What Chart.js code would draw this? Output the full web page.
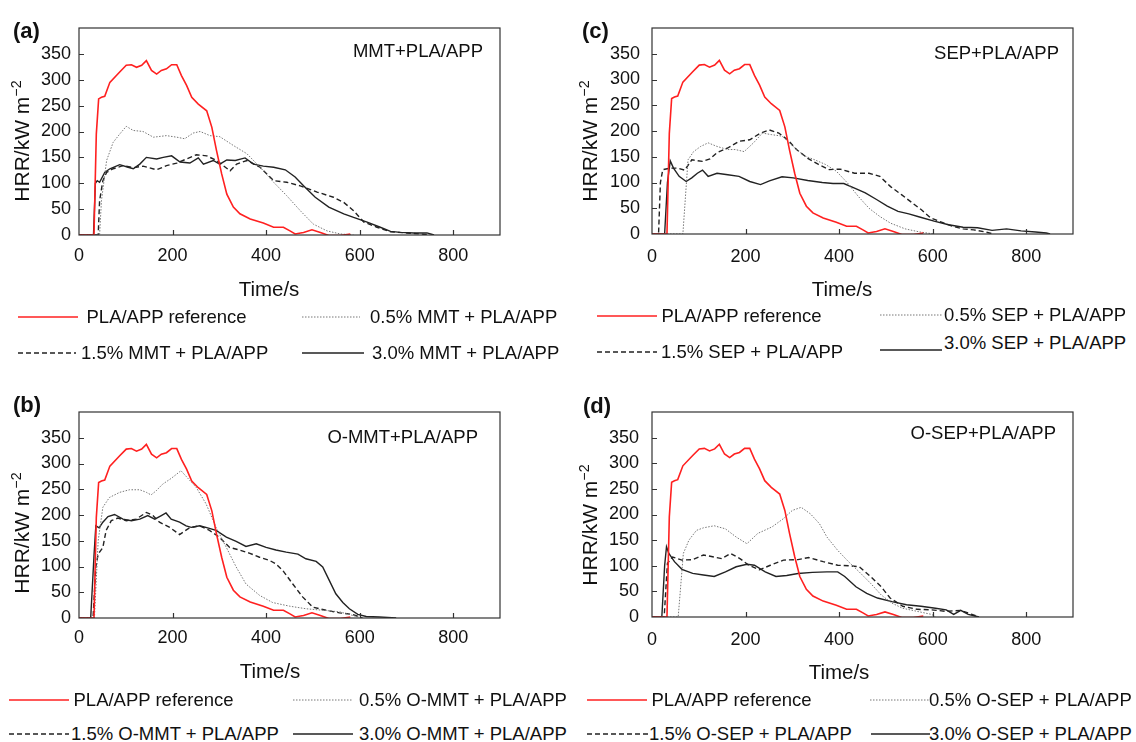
<!DOCTYPE html>
<html><head><meta charset="utf-8">
<script src="https://cdn.jsdelivr.net/npm/chart.js@4/dist/chart.umd.min.js"></script>
<style>
body{margin:0;background:#fff;}
#page{position:relative;width:1136px;height:742px;overflow:hidden;font-family:"Liberation Sans",Arial,Helvetica,sans-serif;color:#111;background:#fff;}
canvas{position:absolute;}
.t{position:absolute;white-space:nowrap;line-height:1;}
.yt{position:absolute;white-space:nowrap;line-height:1;font-size:21px;transform:translate(-50%,-50%) rotate(-90deg);}
.yt sup{font-size:0.68em;vertical-align:0.55em;line-height:0;}
.pl{font-weight:bold;font-size:22px;}
svg{position:absolute;overflow:visible;}
</style></head>
<body><div id="page">
<canvas id="ca" width="520" height="280" style="left:0;top:0"></canvas>
<canvas id="cc" width="566" height="280" style="left:570px;top:0"></canvas>
<canvas id="cb" width="520" height="280" style="left:0;top:384px"></canvas>
<canvas id="cd" width="566" height="280" style="left:570px;top:384px"></canvas>
</div>
<script>
// ---------- DATA (time s, HRR kW m^-2) ----------
const xTicks = [0, 200, 400, 600, 800];
const yTicks = [0, 50, 100, 150, 200, 250, 300, 350];
const refHRR = [[0,0],[32,0],[37,195],[42,263],[48,266],[55,268],[66,295],[87,315],[101,328],[112,329],[123,324],[134,328],[144,337],[155,318],[166,311],[176,318],[187,321],[198,329],[209,329],[219,308],[230,289],[241,266],[255,253],[273,240],[284,208],[294,163],[305,118],[316,79],[330,54],[344,41],[366,31],[394,23],[416,15],[437,15],[451,8],[462,2],[480,5],[498,10],[516,5],[534,-1],[559,-1],[580,2]];
const mmt05 = [[0,0],[44,0],[48,66],[59,144],[73,179],[87,195],[101,210],[116,202],[137,200],[159,189],[187,192],[209,189],[226,186],[244,197],[259,200],[280,192],[301,190],[330,173],[359,157],[387,131],[416,102],[444,76],[473,47],[501,21],[530,8],[559,2],[587,0]];
const mmt15 = [[0,0],[41,0],[44,66],[51,105],[59,121],[73,128],[94,134],[116,130],[137,133],[166,126],[187,134],[209,139],[230,147],[251,155],[273,153],[294,144],[323,124],[337,137],[359,144],[387,131],[416,105],[444,102],[473,95],[509,83],[544,73],[566,63],[587,47],[609,25],[637,15],[666,6],[701,4],[730,2],[751,0]];
const mmt30 = [[0,0],[31,0],[35,100],[39,105],[44,102],[55,121],[66,128],[87,136],[105,131],[116,128],[130,137],[144,150],[166,147],[180,150],[198,153],[216,141],[237,139],[255,149],[266,137],[287,144],[301,137],[316,145],[334,144],[355,149],[373,137],[394,133],[416,131],[441,126],[462,112],[480,95],[505,73],[534,54],[566,41],[587,34],[616,25],[644,15],[666,7],[687,5],[716,4],[744,4],[759,0]];
const sep05 = [[0,0],[66,0],[77,144],[89,160],[104,170],[120,177],[139,170],[162,164],[178,164],[197,160],[217,177],[236,196],[255,193],[278,190],[302,170],[325,152],[348,144],[371,135],[394,122],[418,99],[441,73],[464,50],[487,34],[510,21],[541,10],[572,4],[603,0]];
const sep15 = [[0,0],[14,0],[18,100],[23,125],[39,128],[54,128],[70,124],[85,144],[108,141],[124,146],[139,158],[162,167],[186,180],[209,183],[232,196],[251,202],[271,196],[290,183],[309,164],[333,147],[356,135],[379,125],[402,126],[433,118],[464,118],[487,112],[510,92],[534,76],[557,60],[576,47],[596,31],[619,23],[642,15],[665,10],[688,8],[712,4],[731,0]];
const sep30 = [[0,0],[27,0],[33,100],[39,142],[46,128],[58,112],[73,102],[85,109],[97,118],[108,124],[120,112],[139,118],[162,115],[186,112],[209,102],[232,96],[251,103],[278,111],[302,109],[333,104],[364,100],[387,98],[410,98],[433,89],[456,80],[480,67],[503,54],[526,44],[549,39],[572,33],[603,25],[634,18],[665,13],[696,12],[727,7],[758,10],[789,6],[820,4],[843,2],[851,0]];
const ommt05 = [[0,0],[33,0],[41,150],[51,215],[65,234],[87,244],[108,249],[130,249],[144,244],[154,239],[165,247],[179,260],[197,271],[218,286],[233,271],[251,253],[272,221],[293,176],[315,137],[336,99],[357,66],[386,44],[414,30],[450,23],[485,18],[521,15],[557,12],[585,5],[606,0]];
const ommt15 = [[0,0],[30,0],[36,100],[41,124],[51,137],[58,170],[69,189],[83,194],[101,189],[122,192],[144,205],[158,199],[172,186],[194,176],[215,162],[236,175],[258,179],[279,170],[300,157],[322,137],[343,132],[364,126],[386,118],[407,112],[421,105],[436,92],[457,66],[478,41],[500,21],[528,15],[557,10],[585,7],[606,0]];
const ommt30 = [[0,0],[25,0],[32,120],[36,179],[43,175],[51,186],[62,197],[76,201],[94,192],[112,189],[130,192],[147,199],[162,192],[176,199],[186,204],[197,192],[215,186],[229,179],[240,176],[258,179],[275,175],[293,170],[315,157],[336,149],[357,139],[379,144],[400,137],[421,132],[443,128],[468,124],[485,115],[507,110],[521,99],[535,73],[549,47],[564,30],[578,18],[596,7],[614,3],[642,2],[678,0]];
const osep05 = [[0,0],[56,0],[67,124],[79,150],[95,169],[110,174],[133,178],[157,172],[180,156],[203,143],[226,163],[257,176],[281,192],[300,208],[319,214],[339,201],[358,182],[374,156],[397,130],[420,108],[443,88],[467,66],[490,43],[513,27],[536,17],[567,11],[598,5],[606,0]];
const osep15 = [[0,0],[26,0],[33,105],[44,117],[64,111],[87,112],[110,121],[133,117],[149,114],[168,124],[188,114],[207,101],[230,92],[253,101],[281,111],[312,112],[335,116],[366,108],[397,101],[420,100],[443,98],[467,79],[490,59],[509,37],[536,21],[567,15],[598,14],[629,11],[660,13],[684,5],[699,0]];
const osep30 = [[0,0],[21,0],[27,100],[31,137],[36,124],[48,108],[64,93],[87,85],[110,82],[133,79],[157,88],[180,98],[203,103],[219,101],[242,88],[265,79],[288,81],[312,85],[343,87],[374,88],[397,88],[412,79],[436,59],[459,46],[482,37],[513,30],[544,24],[575,21],[606,17],[629,14],[645,5],[660,13],[676,5],[699,0]];
const refLabel = 'PLA/APP reference';
const labelsA = ['0.5% MMT + PLA/APP','1.5% MMT + PLA/APP','3.0% MMT + PLA/APP'];
const labelsC = ['0.5% SEP + PLA/APP','1.5% SEP + PLA/APP','3.0% SEP + PLA/APP'];
const labelsB = ['0.5% O-MMT + PLA/APP','1.5% O-MMT + PLA/APP','3.0% O-MMT + PLA/APP'];
const labelsD = ['0.5% O-SEP + PLA/APP','1.5% O-SEP + PLA/APP','3.0% O-SEP + PLA/APP'];

// ---------- STYLES ----------
const FONT = '"Liberation Sans", Arial, Helvetica, sans-serif';
const STY = {
  ref: {color:'#ff2020', width:1.6, dash:[]},
  d05: {color:'#777777', width:1.0, dash:[1.5,1.5]},
  d15: {color:'#222222', width:1.4, dash:[5,3]},
  d30: {color:'#222222', width:1.4, dash:[]}
};
function ds(label, pts, s){
  return {label, data: pts.map(p=>({x:p[0], y:p[1]})), borderColor:s.color, borderWidth:s.width,
    borderDash:s.dash, pointRadius:0, fill:false, tension:0};
}
const framePlugin = {
  id:'frame',
  afterDatasetsDraw(chart){
    const {ctx, chartArea:a, scales:{x, y}} = chart;
    ctx.save();
    ctx.strokeStyle = '#333'; ctx.lineWidth = 1.2; ctx.setLineDash([]);
    ctx.strokeRect(a.left, a.top, a.right - a.left, a.bottom - a.top);
    ctx.beginPath();
    y.ticks.forEach(t=>{ if(t.value>0){ const p=Math.round(y.getPixelForValue(t.value))+0.5; ctx.moveTo(a.left,p); ctx.lineTo(a.left+5,p);} });
    x.ticks.forEach(t=>{ if(t.value>0){ const p=Math.round(x.getPixelForValue(t.value))+0.5; ctx.moveTo(p,a.bottom); ctx.lineTo(p,a.bottom-5);} });
    ctx.stroke();
    ctx.restore();
  }
};
function makePanel(id, sets, labels, g){
  const datasets = [ds(refLabel, refHRR, STY.ref), ds(labels[0], sets[0], STY.d05), ds(labels[1], sets[1], STY.d15), ds(labels[2], sets[2], STY.d30)];
  new Chart(document.getElementById(id), {
    type:'line',
    data:{datasets},
    plugins:[framePlugin],
    options:{
      responsive:false, animation:false, devicePixelRatio:1,
      layout:{padding:{left:0, right:g.pr, top:28, bottom:0}},
      plugins:{legend:{display:false}, tooltip:{enabled:false}},
      scales:{
        x:{type:'linear', min:0, max:900,
          afterBuildTicks:s=>{ s.ticks = xTicks.map(v=>({value:v})); },
          afterFit:s=>{ s.height = g.xh; },
          ticks:{padding:g.xp, font:{family:FONT, size:18}, color:'#111', maxRotation:0, autoSkip:false},
          grid:{display:false, drawTicks:false}, border:{display:false}},
        y:{type:'linear', min:0, max:400,
          afterBuildTicks:s=>{ s.ticks = yTicks.map(v=>({value:v})); },
          afterFit:s=>{ s.width = g.yw; },
          ticks:{padding:g.yp, font:{family:FONT, size:18}, color:'#111', autoSkip:false},
          grid:{display:false, drawTicks:false}, border:{display:false}}
      }
    }
  });
}
makePanel('ca', [mmt05, mmt15, mmt30], labelsA, {pr:20, xh:45, yw:79, xp:10, yp:8});
makePanel('cc', [sep05, sep15, sep30], labelsC, {pr:63, xh:46, yw:82, xp:12, yp:12});
makePanel('cb', [ommt05, ommt15, ommt30], labelsB, {pr:20, xh:46, yw:79, xp:9, yp:8});
makePanel('cd', [osep05, osep15, osep30], labelsD, {pr:63, xh:47, yw:82, xp:12, yp:13});

// ---------- TEXT & LEGENDS ----------
const page = document.getElementById('page');
function txt(s, x, y, size, cls, align){
  const d = document.createElement('div');
  d.className = 't ' + (cls||'');
  d.style.fontSize = size + 'px';
  d.textContent = s;
  d.style.top = (y - size*0.5) + 'px';
  if(align === 'right'){ d.style.right = (1136 - x) + 'px'; }
  else if(align === 'center'){ d.style.left = x + 'px'; d.style.transform = 'translateX(-50%)'; }
  else d.style.left = x + 'px';
  page.appendChild(d);
}
function ytitle(cx, cy){
  const d = document.createElement('div');
  d.className = 'yt';
  d.innerHTML = 'HRR/kW m<sup>\u22122</sup>';
  d.style.left = cx + 'px'; d.style.top = cy + 'px';
  page.appendChild(d);
}
function sample(x1, x2, y, s){
  const ns = 'http://www.w3.org/2000/svg';
  const svg = document.createElementNS(ns, 'svg');
  svg.setAttribute('width', x2 - x1); svg.setAttribute('height', 4);
  svg.style.left = x1 + 'px'; svg.style.top = (y - 2) + 'px';
  const l = document.createElementNS(ns, 'line');
  l.setAttribute('x1', 0); l.setAttribute('x2', x2 - x1); l.setAttribute('y1', 2); l.setAttribute('y2', 2);
  l.setAttribute('stroke', s.color); l.setAttribute('stroke-width', s.width);
  if(s.dash.length) l.setAttribute('stroke-dasharray', s.dash.join(' '));
  svg.appendChild(l); page.appendChild(svg);
}
// panel letters
txt('(a)', 13, 31, 22, 'pl'); txt('(c)', 582, 31, 22, 'pl');
txt('(b)', 13, 405, 22, 'pl'); txt('(d)', 583, 406, 22, 'pl');
// inset titles
txt('MMT+PLA/APP', 483, 51, 18.5, '', 'right');
txt('SEP+PLA/APP', 1059, 53, 18.5, '', 'right');
txt('O-MMT+PLA/APP', 478, 437, 18.5, '', 'right');
txt('O-SEP+PLA/APP', 1056, 433, 18.5, '', 'right');
// axis titles
txt('Time/s', 269, 289, 20.5, '', 'center'); txt('Time/s', 842, 289, 20.5, '', 'center');
txt('Time/s', 270, 671, 20.5, '', 'center'); txt('Time/s', 839, 672, 20.5, '', 'center');
ytitle(21, 141); ytitle(589, 141); ytitle(21, 533); ytitle(589, 525);
// legends: [x1, x2, lineY, textX, textY, style, label]
const LS = 18.5;
const legendItems = [
  [18, 78, 317, 86.5, 317, STY.ref, refLabel], [302, 360, 317, 370, 317, STY.d05, labelsA[0]],
  [18, 76, 353, 81, 353, STY.d15, labelsA[1]], [302, 364, 353, 372, 353, STY.d30, labelsA[2]],
  [597, 657, 316, 661.5, 316, STY.ref, refLabel], [880, 942, 315, 944, 315, STY.d05, labelsC[0]],
  [597, 657, 352, 661, 352, STY.d15, labelsC[1]], [880, 942, 350, 944, 343, STY.d30, labelsC[2]],
  [9, 69, 700, 73.5, 700, STY.ref, refLabel], [293, 353, 700, 359, 700, STY.d05, labelsB[0]],
  [9, 69, 734, 71, 734, STY.d15, labelsB[1]], [293, 353, 734, 359, 734, STY.d30, labelsB[2]],
  [587, 647, 700, 651.5, 700, STY.ref, refLabel], [870, 930, 700, 929, 700, STY.d05, labelsD[0]],
  [587, 648, 734, 649, 734, STY.d15, labelsD[1]], [871, 930, 734, 929, 734, STY.d30, labelsD[2]]
];
legendItems.forEach(it=>{ sample(it[0], it[1], it[2], it[5]); txt(it[6], it[3], it[4], LS); });
</script>
</body></html>
